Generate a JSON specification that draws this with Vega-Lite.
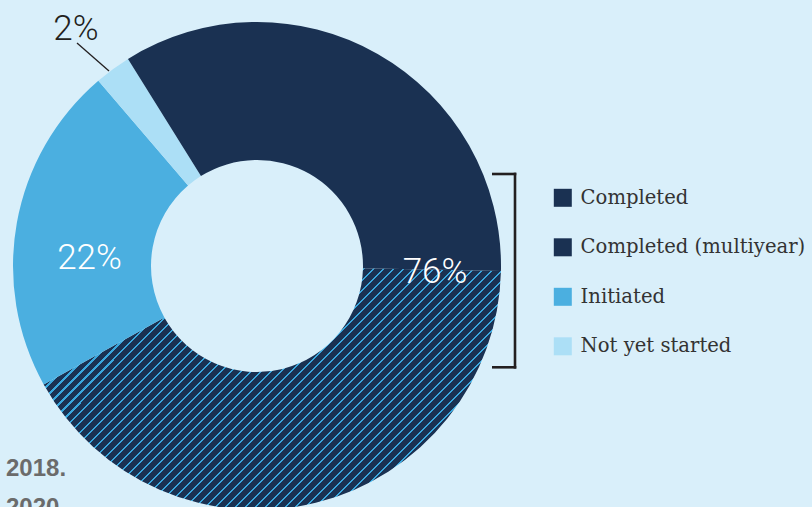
{
  "$schema": "https://vega.github.io/schema/vega-lite/v6.json",
  "width": 812,
  "height": 507,
  "padding": 0,
  "autosize": {"type": "none"},
  "background": "#d9effa",
  "config": {"view": {"stroke": null}},
  "datasets": {
    "slices": [
      {"status": "Completed (multiyear)", "pct": 41.6, "ord": 1},
      {"status": "Initiated", "pct": 21.8, "ord": 2},
      {"status": "Not yet started", "pct": 2.4, "ord": 3},
      {"status": "Completed", "pct": 34.2, "ord": 4}
    ],
    "bracket": [
      {"x": 0.96844, "y": 0.37705, "x2": 1.05738, "y2": 0.37705},
      {"x": 1.05738, "y": 0.37705, "x2": 1.05738, "y2": -0.41516},
      {"x": 0.96844, "y": -0.41516, "x2": 1.05738, "y2": -0.41516}
    ],
    "leader": [
      {"x": -0.7377, "y": 0.91393, "x2": -0.60656, "y2": 0.79918}
    ],
    "inner_labels": [
      {"label": "76%", "x": 0.72951, "y": -0.06967},
      {"label": "22%", "x": -0.68648, "y": -0.01352}
    ],
    "outer_labels": [
      {"label": "2%", "x": -0.7418, "y": 0.92623}
    ],
    "notes": [
      {"label": "2018.", "x": -1.02869, "y": -0.86066},
      {"label": "2020.", "x": -1.02869, "y": -1.02049}
    ]
  },
  "layer": [
    {
      "data": {"name": "slices"},
      "mark": {"type": "arc", "outerRadius": 244, "innerRadius": 106, "strokeWidth": 0},
      "encoding": {
        "x": {"datum": 0, "type": "quantitative", "scale": {"domain": [-1.05328, 2.27459], "nice": false, "zero": false}, "axis": null},
        "y": {"datum": 0, "type": "quantitative", "scale": {"domain": [-0.9877, 1.09016], "nice": false, "zero": false}, "axis": null},
        "theta": {"field": "pct", "type": "quantitative", "stack": true, "scale": {"range": [1.5917, 7.8749]}},
        "order": {"field": "ord", "type": "quantitative"},
        "color": {
          "field": "status",
          "type": "nominal",
          "scale": {
            "domain": ["Completed", "Completed (multiyear)", "Initiated", "Not yet started"],
            "range": ["#1a3152", "#1a3152", "#4bafe0", "#acdff6"]
          },
          "legend": {
            "title": null,
            "orient": "none",
            "legendX": 553,
            "legendY": 188,
            "symbolType": "square",
            "symbolSize": 324,
            "symbolStrokeWidth": 0,
            "symbolOpacity": 1,
            "labelFont": "DejaVu Serif",
            "labelFontSize": 19.6,
            "labelColor": "#333333",
            "labelOffset": 8,
            "rowPadding": 28.5,
            "padding": 0,
            "labelLimit": 400
          },
          "condition": {
            "test": "datum.status === 'Completed (multiyear)'",
            "value": {"gradient": "linear", "x1": 0, "y1": 0, "x2": 1.1948, "y2": 0.6316, "stops": [
{"offset":0,"color":"#3aa6dc"},{"offset":0.0033,"color":"#3aa6dc"},{"offset":0.0033,"color":"#1a3152"},{"offset":0.01429,"color":"#1a3152"},
{"offset":0.01429,"color":"#3aa6dc"},{"offset":0.01759,"color":"#3aa6dc"},{"offset":0.01759,"color":"#1a3152"},{"offset":0.02857,"color":"#1a3152"},
{"offset":0.02857,"color":"#3aa6dc"},{"offset":0.03187,"color":"#3aa6dc"},{"offset":0.03187,"color":"#1a3152"},{"offset":0.04286,"color":"#1a3152"},
{"offset":0.04286,"color":"#3aa6dc"},{"offset":0.04616,"color":"#3aa6dc"},{"offset":0.04616,"color":"#1a3152"},{"offset":0.05714,"color":"#1a3152"},
{"offset":0.05714,"color":"#3aa6dc"},{"offset":0.06044,"color":"#3aa6dc"},{"offset":0.06044,"color":"#1a3152"},{"offset":0.07143,"color":"#1a3152"},
{"offset":0.07143,"color":"#3aa6dc"},{"offset":0.07473,"color":"#3aa6dc"},{"offset":0.07473,"color":"#1a3152"},{"offset":0.08571,"color":"#1a3152"},
{"offset":0.08571,"color":"#3aa6dc"},{"offset":0.08901,"color":"#3aa6dc"},{"offset":0.08901,"color":"#1a3152"},{"offset":0.1,"color":"#1a3152"},
{"offset":0.1,"color":"#3aa6dc"},{"offset":0.1033,"color":"#3aa6dc"},{"offset":0.1033,"color":"#1a3152"},{"offset":0.11429,"color":"#1a3152"},
{"offset":0.11429,"color":"#3aa6dc"},{"offset":0.11759,"color":"#3aa6dc"},{"offset":0.11759,"color":"#1a3152"},{"offset":0.12857,"color":"#1a3152"},
{"offset":0.12857,"color":"#3aa6dc"},{"offset":0.13187,"color":"#3aa6dc"},{"offset":0.13187,"color":"#1a3152"},{"offset":0.14286,"color":"#1a3152"},
{"offset":0.14286,"color":"#3aa6dc"},{"offset":0.14616,"color":"#3aa6dc"},{"offset":0.14616,"color":"#1a3152"},{"offset":0.15714,"color":"#1a3152"},
{"offset":0.15714,"color":"#3aa6dc"},{"offset":0.16044,"color":"#3aa6dc"},{"offset":0.16044,"color":"#1a3152"},{"offset":0.17143,"color":"#1a3152"},
{"offset":0.17143,"color":"#3aa6dc"},{"offset":0.17473,"color":"#3aa6dc"},{"offset":0.17473,"color":"#1a3152"},{"offset":0.18571,"color":"#1a3152"},
{"offset":0.18571,"color":"#3aa6dc"},{"offset":0.18901,"color":"#3aa6dc"},{"offset":0.18901,"color":"#1a3152"},{"offset":0.2,"color":"#1a3152"},
{"offset":0.2,"color":"#3aa6dc"},{"offset":0.2033,"color":"#3aa6dc"},{"offset":0.2033,"color":"#1a3152"},{"offset":0.21429,"color":"#1a3152"},
{"offset":0.21429,"color":"#3aa6dc"},{"offset":0.21759,"color":"#3aa6dc"},{"offset":0.21759,"color":"#1a3152"},{"offset":0.22857,"color":"#1a3152"},
{"offset":0.22857,"color":"#3aa6dc"},{"offset":0.23187,"color":"#3aa6dc"},{"offset":0.23187,"color":"#1a3152"},{"offset":0.24286,"color":"#1a3152"},
{"offset":0.24286,"color":"#3aa6dc"},{"offset":0.24616,"color":"#3aa6dc"},{"offset":0.24616,"color":"#1a3152"},{"offset":0.25714,"color":"#1a3152"},
{"offset":0.25714,"color":"#3aa6dc"},{"offset":0.26044,"color":"#3aa6dc"},{"offset":0.26044,"color":"#1a3152"},{"offset":0.27143,"color":"#1a3152"},
{"offset":0.27143,"color":"#3aa6dc"},{"offset":0.27473,"color":"#3aa6dc"},{"offset":0.27473,"color":"#1a3152"},{"offset":0.28571,"color":"#1a3152"},
{"offset":0.28571,"color":"#3aa6dc"},{"offset":0.28901,"color":"#3aa6dc"},{"offset":0.28901,"color":"#1a3152"},{"offset":0.3,"color":"#1a3152"},
{"offset":0.3,"color":"#3aa6dc"},{"offset":0.3033,"color":"#3aa6dc"},{"offset":0.3033,"color":"#1a3152"},{"offset":0.31429,"color":"#1a3152"},
{"offset":0.31429,"color":"#3aa6dc"},{"offset":0.31759,"color":"#3aa6dc"},{"offset":0.31759,"color":"#1a3152"},{"offset":0.32857,"color":"#1a3152"},
{"offset":0.32857,"color":"#3aa6dc"},{"offset":0.33187,"color":"#3aa6dc"},{"offset":0.33187,"color":"#1a3152"},{"offset":0.34286,"color":"#1a3152"},
{"offset":0.34286,"color":"#3aa6dc"},{"offset":0.34616,"color":"#3aa6dc"},{"offset":0.34616,"color":"#1a3152"},{"offset":0.35714,"color":"#1a3152"},
{"offset":0.35714,"color":"#3aa6dc"},{"offset":0.36044,"color":"#3aa6dc"},{"offset":0.36044,"color":"#1a3152"},{"offset":0.37143,"color":"#1a3152"},
{"offset":0.37143,"color":"#3aa6dc"},{"offset":0.37473,"color":"#3aa6dc"},{"offset":0.37473,"color":"#1a3152"},{"offset":0.38571,"color":"#1a3152"},
{"offset":0.38571,"color":"#3aa6dc"},{"offset":0.38901,"color":"#3aa6dc"},{"offset":0.38901,"color":"#1a3152"},{"offset":0.4,"color":"#1a3152"},
{"offset":0.4,"color":"#3aa6dc"},{"offset":0.4033,"color":"#3aa6dc"},{"offset":0.4033,"color":"#1a3152"},{"offset":0.41429,"color":"#1a3152"},
{"offset":0.41429,"color":"#3aa6dc"},{"offset":0.41759,"color":"#3aa6dc"},{"offset":0.41759,"color":"#1a3152"},{"offset":0.42857,"color":"#1a3152"},
{"offset":0.42857,"color":"#3aa6dc"},{"offset":0.43187,"color":"#3aa6dc"},{"offset":0.43187,"color":"#1a3152"},{"offset":0.44286,"color":"#1a3152"},
{"offset":0.44286,"color":"#3aa6dc"},{"offset":0.44616,"color":"#3aa6dc"},{"offset":0.44616,"color":"#1a3152"},{"offset":0.45714,"color":"#1a3152"},
{"offset":0.45714,"color":"#3aa6dc"},{"offset":0.46044,"color":"#3aa6dc"},{"offset":0.46044,"color":"#1a3152"},{"offset":0.47143,"color":"#1a3152"},
{"offset":0.47143,"color":"#3aa6dc"},{"offset":0.47473,"color":"#3aa6dc"},{"offset":0.47473,"color":"#1a3152"},{"offset":0.48571,"color":"#1a3152"},
{"offset":0.48571,"color":"#3aa6dc"},{"offset":0.48901,"color":"#3aa6dc"},{"offset":0.48901,"color":"#1a3152"},{"offset":0.5,"color":"#1a3152"},
{"offset":0.5,"color":"#3aa6dc"},{"offset":0.5033,"color":"#3aa6dc"},{"offset":0.5033,"color":"#1a3152"},{"offset":0.51429,"color":"#1a3152"},
{"offset":0.51429,"color":"#3aa6dc"},{"offset":0.51759,"color":"#3aa6dc"},{"offset":0.51759,"color":"#1a3152"},{"offset":0.52857,"color":"#1a3152"},
{"offset":0.52857,"color":"#3aa6dc"},{"offset":0.53187,"color":"#3aa6dc"},{"offset":0.53187,"color":"#1a3152"},{"offset":0.54286,"color":"#1a3152"},
{"offset":0.54286,"color":"#3aa6dc"},{"offset":0.54616,"color":"#3aa6dc"},{"offset":0.54616,"color":"#1a3152"},{"offset":0.55714,"color":"#1a3152"},
{"offset":0.55714,"color":"#3aa6dc"},{"offset":0.56044,"color":"#3aa6dc"},{"offset":0.56044,"color":"#1a3152"},{"offset":0.57143,"color":"#1a3152"},
{"offset":0.57143,"color":"#3aa6dc"},{"offset":0.57473,"color":"#3aa6dc"},{"offset":0.57473,"color":"#1a3152"},{"offset":0.58571,"color":"#1a3152"},
{"offset":0.58571,"color":"#3aa6dc"},{"offset":0.58901,"color":"#3aa6dc"},{"offset":0.58901,"color":"#1a3152"},{"offset":0.6,"color":"#1a3152"},
{"offset":0.6,"color":"#3aa6dc"},{"offset":0.6033,"color":"#3aa6dc"},{"offset":0.6033,"color":"#1a3152"},{"offset":0.61429,"color":"#1a3152"},
{"offset":0.61429,"color":"#3aa6dc"},{"offset":0.61759,"color":"#3aa6dc"},{"offset":0.61759,"color":"#1a3152"},{"offset":0.62857,"color":"#1a3152"},
{"offset":0.62857,"color":"#3aa6dc"},{"offset":0.63187,"color":"#3aa6dc"},{"offset":0.63187,"color":"#1a3152"},{"offset":0.64286,"color":"#1a3152"},
{"offset":0.64286,"color":"#3aa6dc"},{"offset":0.64616,"color":"#3aa6dc"},{"offset":0.64616,"color":"#1a3152"},{"offset":0.65714,"color":"#1a3152"},
{"offset":0.65714,"color":"#3aa6dc"},{"offset":0.66044,"color":"#3aa6dc"},{"offset":0.66044,"color":"#1a3152"},{"offset":0.67143,"color":"#1a3152"},
{"offset":0.67143,"color":"#3aa6dc"},{"offset":0.67473,"color":"#3aa6dc"},{"offset":0.67473,"color":"#1a3152"},{"offset":0.68571,"color":"#1a3152"},
{"offset":0.68571,"color":"#3aa6dc"},{"offset":0.68901,"color":"#3aa6dc"},{"offset":0.68901,"color":"#1a3152"},{"offset":0.7,"color":"#1a3152"},
{"offset":0.7,"color":"#3aa6dc"},{"offset":0.7033,"color":"#3aa6dc"},{"offset":0.7033,"color":"#1a3152"},{"offset":0.71429,"color":"#1a3152"},
{"offset":0.71429,"color":"#3aa6dc"},{"offset":0.71759,"color":"#3aa6dc"},{"offset":0.71759,"color":"#1a3152"},{"offset":0.72857,"color":"#1a3152"},
{"offset":0.72857,"color":"#3aa6dc"},{"offset":0.73187,"color":"#3aa6dc"},{"offset":0.73187,"color":"#1a3152"},{"offset":0.74286,"color":"#1a3152"},
{"offset":0.74286,"color":"#3aa6dc"},{"offset":0.74616,"color":"#3aa6dc"},{"offset":0.74616,"color":"#1a3152"},{"offset":0.75714,"color":"#1a3152"},
{"offset":0.75714,"color":"#3aa6dc"},{"offset":0.76044,"color":"#3aa6dc"},{"offset":0.76044,"color":"#1a3152"},{"offset":0.77143,"color":"#1a3152"},
{"offset":0.77143,"color":"#3aa6dc"},{"offset":0.77473,"color":"#3aa6dc"},{"offset":0.77473,"color":"#1a3152"},{"offset":0.78571,"color":"#1a3152"},
{"offset":0.78571,"color":"#3aa6dc"},{"offset":0.78901,"color":"#3aa6dc"},{"offset":0.78901,"color":"#1a3152"},{"offset":0.8,"color":"#1a3152"},
{"offset":0.8,"color":"#3aa6dc"},{"offset":0.8033,"color":"#3aa6dc"},{"offset":0.8033,"color":"#1a3152"},{"offset":0.81429,"color":"#1a3152"},
{"offset":0.81429,"color":"#3aa6dc"},{"offset":0.81759,"color":"#3aa6dc"},{"offset":0.81759,"color":"#1a3152"},{"offset":0.82857,"color":"#1a3152"},
{"offset":0.82857,"color":"#3aa6dc"},{"offset":0.83187,"color":"#3aa6dc"},{"offset":0.83187,"color":"#1a3152"},{"offset":0.84286,"color":"#1a3152"},
{"offset":0.84286,"color":"#3aa6dc"},{"offset":0.84616,"color":"#3aa6dc"},{"offset":0.84616,"color":"#1a3152"},{"offset":0.85714,"color":"#1a3152"},
{"offset":0.85714,"color":"#3aa6dc"},{"offset":0.86044,"color":"#3aa6dc"},{"offset":0.86044,"color":"#1a3152"},{"offset":0.87143,"color":"#1a3152"},
{"offset":0.87143,"color":"#3aa6dc"},{"offset":0.87473,"color":"#3aa6dc"},{"offset":0.87473,"color":"#1a3152"},{"offset":0.88571,"color":"#1a3152"},
{"offset":0.88571,"color":"#3aa6dc"},{"offset":0.88901,"color":"#3aa6dc"},{"offset":0.88901,"color":"#1a3152"},{"offset":0.9,"color":"#1a3152"},
{"offset":0.9,"color":"#3aa6dc"},{"offset":0.9033,"color":"#3aa6dc"},{"offset":0.9033,"color":"#1a3152"},{"offset":0.91429,"color":"#1a3152"},
{"offset":0.91429,"color":"#3aa6dc"},{"offset":0.91759,"color":"#3aa6dc"},{"offset":0.91759,"color":"#1a3152"},{"offset":0.92857,"color":"#1a3152"},
{"offset":0.92857,"color":"#3aa6dc"},{"offset":0.93187,"color":"#3aa6dc"},{"offset":0.93187,"color":"#1a3152"},{"offset":0.94286,"color":"#1a3152"},
{"offset":0.94286,"color":"#3aa6dc"},{"offset":0.94616,"color":"#3aa6dc"},{"offset":0.94616,"color":"#1a3152"},{"offset":0.95714,"color":"#1a3152"},
{"offset":0.95714,"color":"#3aa6dc"},{"offset":0.96044,"color":"#3aa6dc"},{"offset":0.96044,"color":"#1a3152"},{"offset":0.97143,"color":"#1a3152"},
{"offset":0.97143,"color":"#3aa6dc"},{"offset":0.97473,"color":"#3aa6dc"},{"offset":0.97473,"color":"#1a3152"},{"offset":0.98571,"color":"#1a3152"},
{"offset":0.98571,"color":"#3aa6dc"},{"offset":0.98901,"color":"#3aa6dc"},{"offset":0.98901,"color":"#1a3152"},{"offset":1,"color":"#1a3152"}
            ]}
          }
        }
      }
    },
    {
      "data": {"name": "bracket"},
      "mark": {"type": "rule", "color": "#231f20", "strokeWidth": 2.6, "strokeCap": "square"},
      "encoding": {
        "x": {"field": "x", "type": "quantitative", "scale": {"domain": [-1.05328, 2.27459], "nice": false, "zero": false}, "axis": null},
        "x2": {"field": "x2"},
        "y": {"field": "y", "type": "quantitative", "scale": {"domain": [-0.9877, 1.09016], "nice": false, "zero": false}, "axis": null},
        "y2": {"field": "y2"}
      }
    },
    {
      "data": {"name": "leader"},
      "mark": {"type": "rule", "color": "#231f20", "strokeWidth": 1.3},
      "encoding": {
        "x": {"field": "x", "type": "quantitative", "scale": {"domain": [-1.05328, 2.27459], "nice": false, "zero": false}, "axis": null},
        "x2": {"field": "x2"},
        "y": {"field": "y", "type": "quantitative", "scale": {"domain": [-0.9877, 1.09016], "nice": false, "zero": false}, "axis": null},
        "y2": {"field": "y2"}
      }
    },
    {
      "data": {"name": "inner_labels"},
      "mark": {"type": "text", "font": "Roboto", "fontWeight": 300, "fontSize": 35, "color": "#ffffff", "align": "center", "baseline": "alphabetic"},
      "encoding": {
        "x": {"field": "x", "type": "quantitative", "scale": {"domain": [-1.05328, 2.27459], "nice": false, "zero": false}, "axis": null},
        "y": {"field": "y", "type": "quantitative", "scale": {"domain": [-0.9877, 1.09016], "nice": false, "zero": false}, "axis": null},
        "text": {"field": "label"}
      }
    },
    {
      "data": {"name": "outer_labels"},
      "mark": {"type": "text", "font": "Roboto", "fontWeight": 300, "fontSize": 35, "color": "#231f20", "align": "center", "baseline": "alphabetic"},
      "encoding": {
        "x": {"field": "x", "type": "quantitative", "scale": {"domain": [-1.05328, 2.27459], "nice": false, "zero": false}, "axis": null},
        "y": {"field": "y", "type": "quantitative", "scale": {"domain": [-0.9877, 1.09016], "nice": false, "zero": false}, "axis": null},
        "text": {"field": "label"}
      }
    },
    {
      "data": {"name": "notes"},
      "mark": {"type": "text", "font": "Liberation Sans", "fontWeight": "bold", "fontSize": 24, "color": "#6b6b6b", "align": "left", "baseline": "alphabetic"},
      "encoding": {
        "x": {"field": "x", "type": "quantitative", "scale": {"domain": [-1.05328, 2.27459], "nice": false, "zero": false}, "axis": null},
        "y": {"field": "y", "type": "quantitative", "scale": {"domain": [-0.9877, 1.09016], "nice": false, "zero": false}, "axis": null},
        "text": {"field": "label"}
      }
    }
  ]
}
